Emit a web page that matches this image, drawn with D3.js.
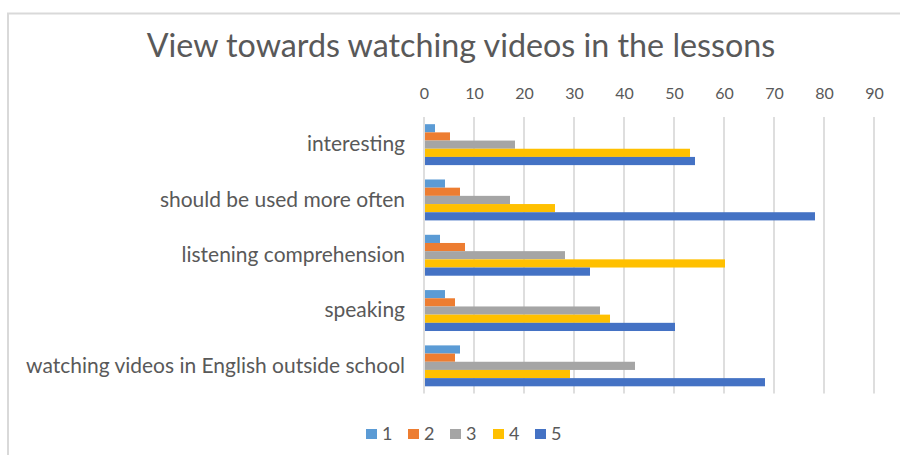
<!DOCTYPE html>
<html>
<head>
<meta charset="utf-8">
<script src="https://cdn.jsdelivr.net/npm/d3@7"></script>
<style>
html,body{margin:0;padding:0;background:#fff;overflow:hidden;}
svg{display:block;font-family:Lato,"Open Sans",sans-serif;}
</style>
</head>
<body>
<svg id="chart" width="900" height="455"></svg>
<script>
const title = "View towards watching videos in the lessons";
const categories = ["interesting","should be used more often","listening comprehension","speaking","watching videos in English outside school"];
const seriesNames = ["1","2","3","4","5"];
const series1 = [2,4,3,4,7];
const series2 = [5,7,8,6,6];
const series3 = [18,17,28,35,42];
const series4 = [53,26,60,37,29];
const series5 = [54,78,33,50,68];
const xTicks = [0,10,20,30,40,50,60,70,80,90];
const colors = ["#5B9BD5","#ED7D31","#A5A5A5","#FFC000","#4472C4"];

const allSeries = [series1,series2,series3,series4,series5];
const svg = d3.select("#chart");
const textColor = "#595959";

// chart border
svg.append("rect").attr("x",8).attr("y",13.5).attr("width",920).attr("height",470)
  .attr("fill","#fff").attr("stroke","#d9d9d9").attr("stroke-width",2);

const x = d3.scaleLinear().domain([0,90]).range([424,874]);
const y = d3.scaleBand().domain(categories).range([117,393.5]).paddingInner(0.26).paddingOuter(0.13);
const yInner = d3.scaleBand().domain(seriesNames).range([0,y.bandwidth()]);

// gridlines
svg.append("g").selectAll("line").data(xTicks).join("line")
  .attr("x1",d=>x(d)).attr("x2",d=>x(d)).attr("y1",117).attr("y2",393.5)
  .attr("stroke","#dedede").attr("stroke-width",2);

// axis labels on top
const xAxis = d3.axisTop(x).tickValues(xTicks).tickSize(0).tickPadding(0);
const gx = svg.append("g").attr("transform","translate(0,99)").call(xAxis);
gx.select(".domain").remove();
gx.selectAll("text").attr("fill",textColor).style("font-size","16px").style("font-family","Lato,sans-serif");

// bars
const rows = categories.map((c,i)=>({cat:c, vals:allSeries.map(s=>s[i])}));
const groups = svg.append("g").selectAll("g").data(rows).join("g")
  .attr("transform",d=>`translate(0,${y(d.cat)})`);
groups.selectAll("rect").data(d=>d.vals.map((v,j)=>({v, s:seriesNames[j], j}))).join("rect")
  .attr("x",x(0)+1).attr("y",d=>yInner(d.s))
  .attr("width",d=>x(d.v)-x(0)).attr("height",yInner.bandwidth())
  .attr("fill",d=>colors[d.j]);

// category labels
const yAxis = d3.axisLeft(y).tickSize(0).tickPadding(0);
const gy = svg.append("g").attr("transform","translate(405,0)").call(yAxis);
gy.select(".domain").remove();
gy.selectAll("text").attr("fill",textColor).style("font-size","18px").style("font-family","Lato,sans-serif");
// fit label font to the reference width of the longest label
let maxW = 0;
gy.selectAll("text").each(function(){ maxW = Math.max(maxW, this.getComputedTextLength()); });
const catSize = 18*379/maxW;
gy.selectAll("text").style("font-size",catSize+"px");

// title
const t = svg.append("text").attr("x",461).attr("y",57).attr("text-anchor","middle")
  .attr("fill",textColor).style("font-size","28px").text(title);
const tw = t.node().getComputedTextLength();
t.style("font-size",(28*629/tw)+"px");

// legend
const legX = [366,408,450,493,535];
const leg = svg.append("g").selectAll("g").data(seriesNames).join("g")
  .attr("transform",(d,i)=>`translate(${legX[i]},434)`);
leg.append("rect").attr("x",0).attr("y",-5).attr("width",11).attr("height",10).attr("fill",(d,i)=>colors[i]);
leg.append("text").attr("x",16).attr("y",0).attr("dy","0.35em").attr("fill",textColor)
  .style("font-size","18px").text(d=>d);
</script>
</body>
</html>
